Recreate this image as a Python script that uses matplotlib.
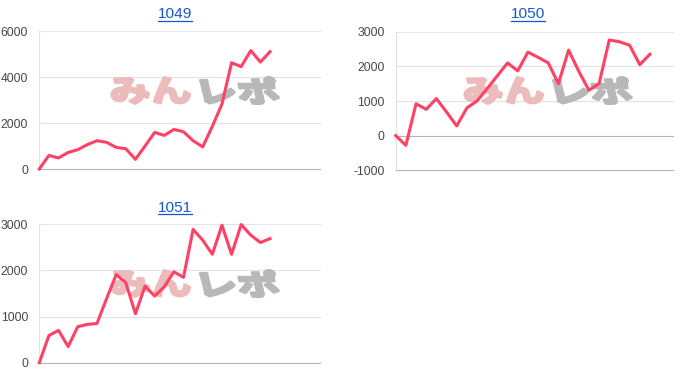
import numpy as np
import matplotlib
matplotlib.use("Agg")
import matplotlib.pyplot as plt
from matplotlib.textpath import TextPath
from matplotlib.patches import PathPatch
from matplotlib.font_manager import FontProperties
from matplotlib.transforms import Affine2D, IdentityTransform
from matplotlib.lines import Line2D

titles = ["1049", "1050", "1051"]
s1049 = [0, 590, 480, 720, 840, 1060, 1230, 1160, 940, 880, 420, 1000, 1590, 1460,
         1720, 1620, 1230, 960, 1860, 2820, 4620, 4450, 5150, 4650, 5100]
s1050 = [0, -280, 920, 760, 1070, 680, 280, 800, 1000, 1360, 1730, 2100, 1870, 2410,
         2260, 2100, 1500, 2470, 1860, 1310, 1500, 2760, 2710, 2610, 2050, 2350]
s1051 = [0, 590, 700, 350, 780, 830, 850, 1390, 1910, 1735, 1060, 1660, 1445, 1645,
         1970, 1850, 2890, 2655, 2350, 2980, 2350, 2995, 2765, 2605, 2690]
yticks1049 = [0, 2000, 4000, 6000]
yticks1050 = [-1000, 0, 1000, 2000, 3000]
yticks1051 = [0, 1000, 2000, 3000]

W, H = 700, 386
fig = plt.figure(figsize=(W / 100, H / 100), dpi=100)
plt.rcParams['font.family'] = ['Liberation Sans', 'DejaVu Sans']

LINE = '#fe4164'
GRID = '#e3e3e3'
BASE = '#b5b5b5'
TXT = '#474747'
BLUE = '#1558cc'

def px_axes(left, right, top, bottom):
    return fig.add_axes([left / W, 1 - bottom / H, (right - left) / W, (bottom - top) / H])

panels = [
    dict(title=titles[0], data=s1049, ticks=yticks1049, box=(39.3, 320, 31, 169), xmax=29.2,
         tpos=(175, 18.3), wm=(108, 76)),
    dict(title=titles[1], data=s1050, ticks=yticks1050, box=(395.7, 672.7, 31.7, 170.3), xmax=27.24,
         tpos=(527.8, 18.3), wm=(461, 76)),
    dict(title=titles[2], data=s1051, ticks=yticks1051, box=(39.3, 320, 224.3, 362.7), xmax=29.2,
         tpos=(175, 211.6), wm=(108, 269)),
]

fp_wm = FontProperties(family='Noto Sans CJK JP', weight='bold')

def watermark(ax, x0, ytop):
    # pink part "みん" and gray part "レポ", skewed like an italic logo
    parts = [("みん", '#ecbcbc', x0, 78), ("レポ", '#b8b8b8', x0 + 92, 74)]
    for txt, col, xl, wpx in parts:
        tp = TextPath((0, 0), txt, size=30, prop=fp_wm)
        ext = tp.get_extents()
        sx = wpx / ext.width
        sy = 26 / ext.height
        tr = (Affine2D().translate(-ext.x0, -ext.y0).scale(sx, sy)
              .skew_deg(-14, 0).translate(xl + 6, H - (ytop + 27.5)))
        path = tr.transform_path(tp)
        patch = PathPatch(path, facecolor=col, edgecolor=col, lw=2.2, joinstyle='round',
                          transform=IdentityTransform(), zorder=1.5, clip_on=False)
        ax.add_patch(patch)

title_texts = []
for p in panels:
    l, r, t, b = p['box']
    ax = px_axes(l, r, t, b)
    d = p['data']
    x = np.arange(len(d))
    ticks = p['ticks']
    ax.set_xlim(0, p['xmax'])
    ax.set_ylim(ticks[0], ticks[-1])
    for v in ticks:
        c = BASE if (v == 0 or v == ticks[0]) else GRID
        ax.axhline(v, color=c, lw=0.8, zorder=1, clip_on=False)
    ax.axvline(0, color=GRID, lw=0.8, zorder=1)
    watermark(ax, *p['wm'])
    ax.plot(x, d, color=LINE, lw=2.2, zorder=3, solid_joinstyle='round', clip_on=False)
    ax.set_yticks(ticks)
    ax.set_yticklabels([str(v) for v in ticks])
    ax.set_xticks([])
    ax.tick_params(axis='y', length=0, pad=8, labelsize=8.7, colors=TXT)
    for s in ax.spines.values():
        s.set_visible(False)
    ax.patch.set_alpha(0)
    tx, ty = p['tpos']
    tt = fig.text(tx / W, 1 - ty / H, p['title'], ha='center', va='baseline',
                  fontsize=11.1, color=BLUE)
    title_texts.append((tt, ty))

fig.canvas.draw()
r = fig.canvas.get_renderer()
for tt, ty in title_texts:
    bb = tt.get_window_extent(r)
    yl = H - (ty + 2.4)
    fig.add_artist(Line2D([bb.x0, bb.x1], [yl, yl], color=BLUE, lw=0.9,
                          transform=IdentityTransform()))

fig.savefig("out.png", dpi=100)
